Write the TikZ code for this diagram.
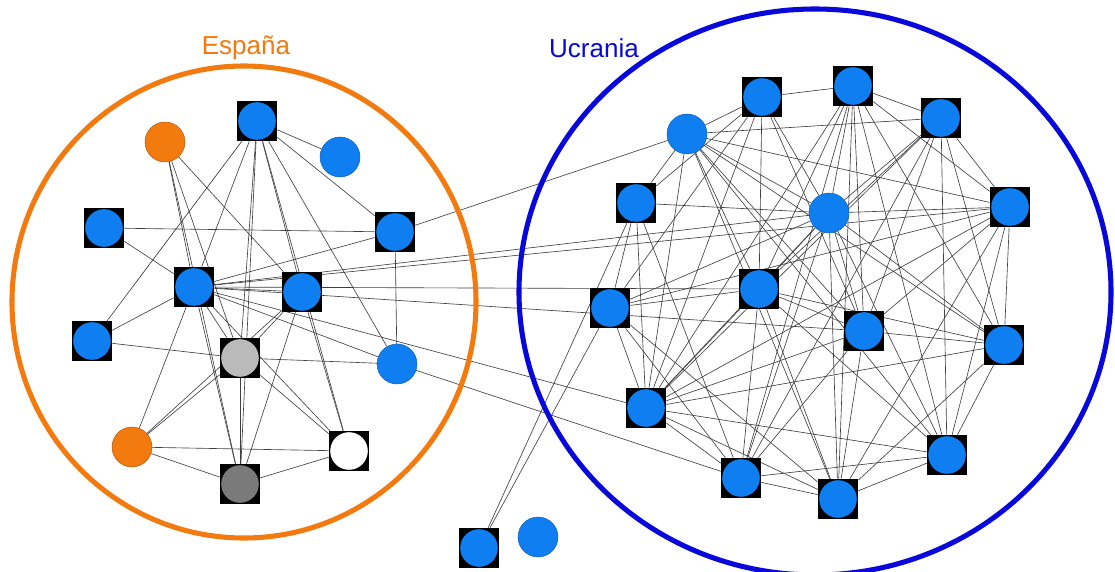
\documentclass[tikz,border=0pt]{standalone}
\usepackage{fontspec}
\setmainfont{Liberation Sans}
\usetikzlibrary{backgrounds}

\definecolor{nodeblue}{RGB}{14,126,240}
\definecolor{esorange}{RGB}{243,122,14}
\definecolor{uablue}{RGB}{8,8,218}

\tikzstyle{member}=[circle,fill=nodeblue,draw=nodeblue!75!black,line width=0.3pt,minimum size=1cm,inner sep=0pt]
\tikzstyle{guest}=[circle,fill=esorange,draw=esorange!70!black,line width=0.3pt,minimum size=1cm,inner sep=0pt]
\tikzstyle{link}=[black!75,line width=0.45pt]
\tikzstyle{group}=[line width=3.6pt]
\tikzset{boxed/.style={rectangle,fill=black,minimum size=1cm,inner sep=0pt,
    path picture={\fill[#1] (path picture bounding box.center) circle (0.47cm);}},
  boxed/.default=nodeblue,
  lightboxed/.style={boxed=black!27},
  darkboxed/.style={boxed=black!52},
  whiteboxed/.style={boxed=white}}

\begin{document}
\begin{tikzpicture}[x=0.025cm,y=-0.025cm]
    \useasboundingbox (0,0) rectangle (1115,571);
    %Groups
    \draw[group,esorange] (244,302) ellipse [x radius=232, y radius=236];
    \draw[group,uablue] (815,292) ellipse [x radius=296, y radius=283];
    \node[text=esorange,font=\fontsize{18.5}{20}\selectfont] (es) at (246,48) {España};
    \node[text=uablue,font=\fontsize{18.5}{20}\selectfont] (ua) at (594,48) {Ucrania};
    %Spain nodes
    \foreach \pos/\name/\kind in {{(165,142)/e1/guest}, {(257,121)/e2/boxed}, {(340,157)/e3/member},
                                  {(104,228)/e4/boxed}, {(395,232)/e5/boxed}, {(194,287)/e6/boxed},
                                  {(302,292)/e7/boxed}, {(92,341)/e8/boxed}, {(240,358)/e9/lightboxed},
                                  {(397,364)/e10/member}, {(132,447)/e11/guest}, {(349,451)/e12/whiteboxed},
                                  {(240,484)/e13/darkboxed}}
    \node[\kind] (\name) at \pos {};
    %Ukraine nodes
    \foreach \pos/\name/\kind in {{(762,97)/u1/boxed}, {(853,86)/u2/boxed}, {(687,134)/u3/member},
                                  {(636,203)/u4/boxed}, {(829,213)/u5/member}, {(941,118)/u6/boxed},
                                  {(1010,207)/u7/boxed}, {(759,289)/u8/boxed}, {(610,308)/u9/boxed},
                                  {(864,331)/u10/boxed}, {(1004,345)/u11/boxed}, {(646,408)/u12/boxed},
                                  {(947,455)/u13/boxed}, {(741,478)/u14/boxed}, {(838,499)/u15/boxed}}
    \node[\kind] (\name) at \pos {};
    %Outside nodes
    \node[boxed] (o1) at (479,548) {};
    \node[member] (o2) at (538,537) {};
    %Links
    \begin{pgfonlayer}{background}
    \fill[white] (0,0) rectangle (1115,571);
    \foreach \a/\b in {e1/e6, e1/e9, e1/e13, e1/e7,
                       e2/e3, e2/e5, e2/e8, e2/e6, e2/e9, e2/e13, e2/e7, e2/e12, e2/e10,
                       e4/e5, e4/e6, e5/e6, e5/e10,
                       e6/e7, e6/e8, e6/e9, e6/e13, e6/e12, e6/e10, e6/e11,
                       e7/e9, e7/e12, e7/e13, e7/e11,
                       e9/e8, e9/e10, e9/e11, e9/e12, e9/e13,
                       e11/e12, e11/e13, e12/e13}
    \draw[link] (\a) -- (\b);
    \foreach \a/\b in {e5/u3, e6/u5, e6/u7, e6/u8, e6/u10, e6/u12, e10/u14, o1/u9, o1/u4}
    \draw[link] (\a) -- (\b);
    \foreach \a/\b in {u1/u2, u1/u3, u1/u4, u1/u8, u1/u9, u1/u12, u1/u5, u1/u10,
                       u2/u5, u2/u6, u2/u7, u2/u8, u2/u10, u2/u13, u2/u15, u2/u12, u2/u11, u2/u14,
                       u3/u4, u3/u5, u3/u6, u3/u7, u3/u8, u3/u10, u3/u11, u3/u12, u3/u15, u3/u13,
                       u4/u9, u4/u12, u4/u5, u4/u14,
                       u5/u7, u5/u8, u5/u9, u5/u12, u5/u13, u5/u14, u5/u15, u5/u11, u5/u10,
                       u6/u5, u6/u8, u6/u12, u6/u13, u6/u11, u6/u14, u6/u10, u6/u7,
                       u7/u11, u7/u13, u7/u12, u7/u15, u7/u9, u7/u10,
                       u8/u9, u8/u10, u8/u12, u8/u14, u8/u15, u8/u13, u8/u11,
                       u9/u12, u9/u15, u9/u14,
                       u10/u11, u10/u12, u10/u15, u10/u14,
                       u11/u13, u11/u15, u12/u14, u12/u15, u12/u13, u12/u11,
                       u13/u15, u13/u14, u14/u15}
    \draw[link] (\a) -- (\b);
    \end{pgfonlayer}
\end{tikzpicture}
\end{document}
